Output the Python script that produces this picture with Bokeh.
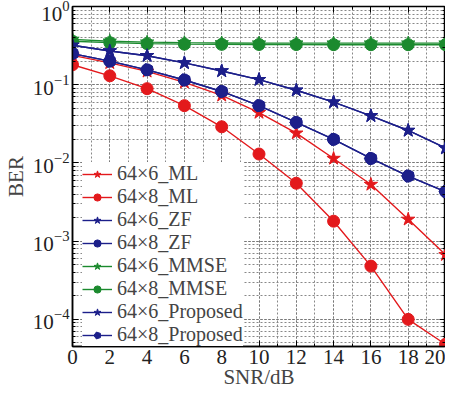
from bokeh.plotting import figure
from bokeh.models import LogAxis, LinearAxis, Range1d, Legend, LegendItem, LogTicker, SingleIntervalTicker
from bokeh.embed import file_html
from bokeh.resources import INLINE

snr = [0, 2, 4, 6, 8, 10, 12, 14, 16, 18, 20]
ml_6 = [0.237, 0.19, 0.148, 0.107, 0.073, 0.044, 0.024, 0.0114, 0.0053, 0.0019, 0.00067]
ml_8 = [0.18, 0.13, 0.089, 0.054, 0.029, 0.013, 0.0055, 0.0018, 0.00048, 0.0001, 0.000048]
zf_6 = [0.32, 0.27, 0.235, 0.19, 0.15, 0.116, 0.085, 0.060, 0.040, 0.026, 0.0155]
zf_8 = [0.25, 0.20, 0.155, 0.115, 0.082, 0.054, 0.033, 0.020, 0.0114, 0.0068, 0.0043]
mmse_6 = [0.38, 0.36, 0.35, 0.345, 0.342, 0.34, 0.34, 0.34, 0.34, 0.34, 0.34]
mmse_8 = [0.36, 0.345, 0.335, 0.33, 0.328, 0.327, 0.326, 0.325, 0.325, 0.325, 0.325]
prop_6 = [0.32, 0.27, 0.235, 0.19, 0.15, 0.116, 0.085, 0.060, 0.040, 0.026, 0.0155]
prop_8 = [0.25, 0.20, 0.155, 0.115, 0.082, 0.054, 0.033, 0.020, 0.0114, 0.0068, 0.0043]

names = ["64×6_ML", "64×8_ML", "64×6_ZF", "64×8_ZF", "64×6_MMSE", "64×8_MMSE", "64×6_Proposed", "64×8_Proposed"]

RED = "#e3191c"
BLUE = "#1c1f8a"
GREEN = "#1b8a2e"
FONT = "Liberation Serif"

p = figure(width=445, height=397, y_axis_type="log", output_backend="svg", toolbar_location=None,
           x_range=Range1d(0, 20), y_range=Range1d(4.5e-5, 1.0),
           min_border_left=0, min_border_right=0, min_border_top=6, min_border_bottom=51)
p.outline_line_color = "black"
p.outline_line_width = 1.5

series = [
    (ml_6, RED, "star"), (ml_8, RED, "circle"),
    (zf_6, BLUE, "star"), (zf_8, BLUE, "circle"),
    (mmse_6, GREEN, "star"), (mmse_8, GREEN, "circle"),
    (prop_6, BLUE, "star"), (prop_8, BLUE, "pentagon"),
]
items = []
for (vals, col, mk), nm in zip(series, names):
    r1 = p.line(snr, vals, line_color=col, line_width=1.4)
    if mk == "pentagon":
        r2 = p.ngon(x=snr, y=vals, radius=6.5, radius_units="screen", n=5, angle=1.5708,
                    fill_color=col, line_color=col)
    elif mk == "star":
        r2 = p.scatter(snr, vals, marker="star", size=14, fill_color=col, line_color=col)
    else:
        r2 = p.scatter(snr, vals, marker="circle", size=12, fill_color=col, line_color=col)
    items.append(LegendItem(label=nm, renderers=[r1, r2]))

legend = Legend(items=items, location=(10, 0), margin=0, padding=5, spacing=0,
                label_text_font=FONT, label_text_font_size="20px", label_height=18,
                glyph_height=18, glyph_width=30, label_standoff=5,
                border_line_color=None, background_fill_color="white", background_fill_alpha=1.0)
p.add_layout(legend)

p.xaxis.ticker = SingleIntervalTicker(interval=2, num_minor_ticks=2)
p.yaxis.ticker = LogTicker(num_minor_ticks=10)
for ax in (p.xaxis[0], p.yaxis[0]):
    ax.major_label_text_font = FONT
    ax.major_label_text_font_size = "21px"
    ax.axis_label_text_font = FONT
    ax.axis_label_text_font_size = "21px"
    ax.axis_label_text_font_style = "normal"
    ax.major_tick_in = 6
    ax.major_tick_out = 0
    ax.minor_tick_in = 3
    ax.minor_tick_out = 0
    ax.axis_line_width = 1.5
    ax.major_label_text_color = "#222222"
p.xaxis.axis_label = "SNR/dB"
p.yaxis.axis_label = "BER"
p.xaxis.axis_label_standoff = -2
p.yaxis.axis_label_standoff = 2
p.xaxis.major_label_standoff = 3
p.yaxis.major_label_standoff = 3

top = LinearAxis(ticker=SingleIntervalTicker(interval=2, num_minor_ticks=2),
                 major_label_text_color=None, major_label_text_font_size="1px", major_label_standoff=0,
                 major_tick_in=6, major_tick_out=0, minor_tick_in=3, minor_tick_out=0)
right = LogAxis(ticker=LogTicker(num_minor_ticks=10),
                major_label_text_color=None, major_label_text_font_size="1px", major_label_standoff=0,
                major_tick_in=6, major_tick_out=0, minor_tick_in=3, minor_tick_out=0)
p.add_layout(top, "above")
p.add_layout(right, "right")

for g in (p.xgrid[0], p.ygrid[0]):
    g.grid_line_color = "#777777"
    g.grid_line_dash = "2 2"
    g.grid_line_width = 1
    g.minor_grid_line_color = "#888888"
    g.minor_grid_line_dash = "2 2"
    g.minor_grid_line_width = 1

open("out.html", "w").write(file_html(p, INLINE))
